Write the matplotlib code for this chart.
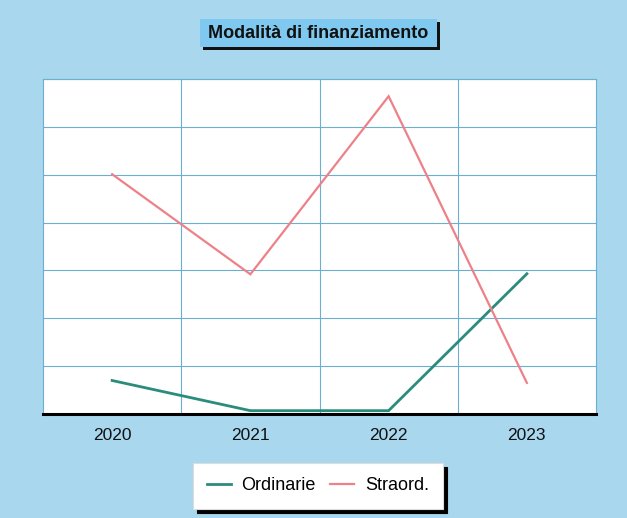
import matplotlib
matplotlib.use("Agg")
import matplotlib.pyplot as plt
from matplotlib.patches import Rectangle

plt.rcParams['font.family'] = ['Liberation Sans', 'DejaVu Sans']

years = ["2020", "2021", "2022", "2023"]
ordinarie = [0.70, 0.07, 0.07, 2.93]
straord = [5.01, 2.92, 6.64, 0.65]

BG = "#a8d7ee"
GRID = "#6bb0d0"
TEAL = "#2a8c7c"
PINK = "#ee8088"

W, H = 627, 518
fig = plt.figure(figsize=(W / 100, H / 100), dpi=100, facecolor=BG)

ax = fig.add_axes([43 / W, 1 - 414 / H, (596 - 43) / W, (414 - 79) / H])
ax.set_facecolor("white")

x = list(range(len(years)))
ax.plot(x, ordinarie, color=TEAL, lw=2.0, label="Ordinarie", solid_joinstyle="miter")
ax.plot(x, straord, color=PINK, lw=1.6, label="Straord.", solid_joinstyle="miter")

ax.set_xlim(-0.5, len(years) - 0.5)
ax.set_ylim(0, 7)
ax.set_xticks(x)
ax.set_xticklabels(years, fontsize=12.5, color="#111111")
ax.set_xticks([0.5, 1.5, 2.5], minor=True)
ax.set_yticks(range(8))
ax.set_yticklabels([])
ax.tick_params(axis="both", which="both", length=0, pad=10)
ax.grid(True, which="minor", axis="x", color=GRID, lw=0.8)
ax.grid(True, which="major", axis="y", color=GRID, lw=0.8)
ax.set_axisbelow(True)
for side in ("left", "right", "top"):
    ax.spines[side].set_color(GRID)
    ax.spines[side].set_linewidth(0.8)
ax.spines["bottom"].set_color("black")
ax.spines["bottom"].set_linewidth(2.2)

# Title box with a dark drop shadow
tx0, tx1, ty0, ty1 = 200, 437, 19, 47
sh = 3
fig.add_artist(Rectangle(((tx0 + sh) / W, 1 - (ty1 + sh) / H), (tx1 - tx0) / W, (ty1 - ty0) / H,
                         transform=fig.transFigure, facecolor="#111111", edgecolor="none"))
fig.add_artist(Rectangle((tx0 / W, 1 - ty1 / H), (tx1 - tx0) / W, (ty1 - ty0) / H,
                         transform=fig.transFigure, facecolor="#7fc8ef", edgecolor="none"))
fig.text((tx0 + tx1) / 2 / W, 1 - (ty0 + ty1) / 2 / H, "Modalità di finanziamento",
         ha="center", va="center", fontsize=13, fontweight="bold", color="#111111")

leg = fig.legend(loc="center", bbox_to_anchor=(318 / W, 1 - 486 / H), ncol=2,
                 fontsize=13, frameon=True, fancybox=False,
                 shadow={"color": "black", "alpha": 1.0, "ox": 3, "oy": -3},
                 edgecolor="#dddddd", facecolor="white", framealpha=1.0,
                 handlelength=1.3, handletextpad=0.6, columnspacing=0.8,
                 borderpad=0.8)
leg.get_frame().set_linewidth(0.8)

fig.savefig("out.png", dpi=100, facecolor=BG)
